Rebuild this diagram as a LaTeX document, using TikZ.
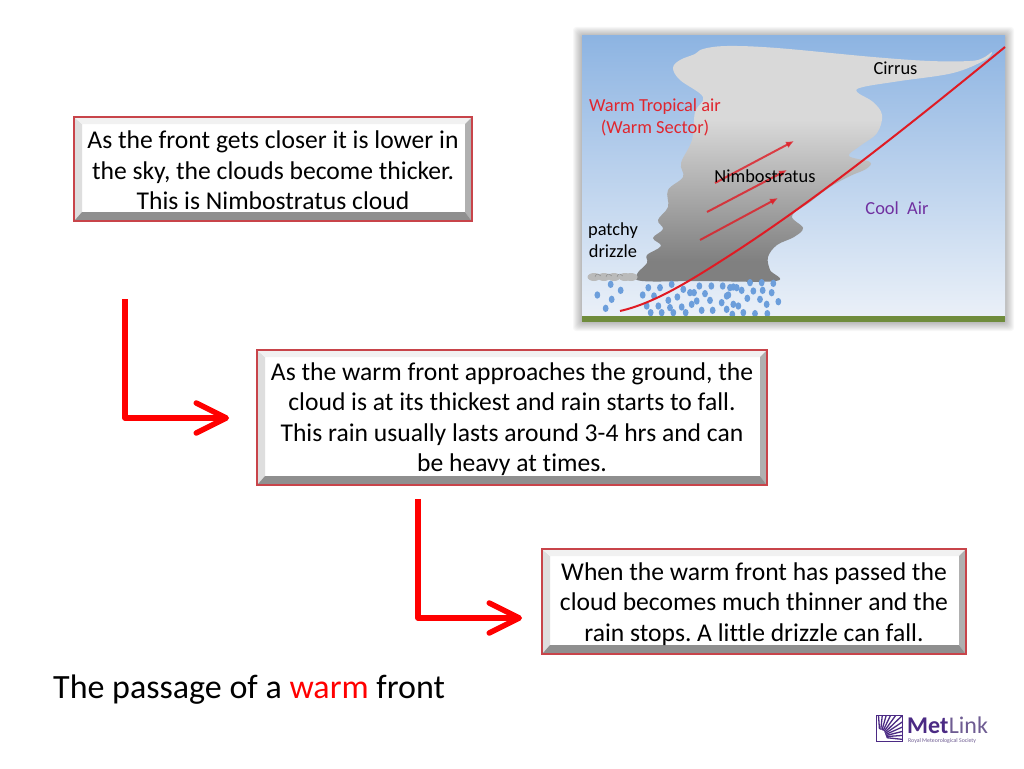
\documentclass[tikz,border=0pt]{standalone}
\usepackage{fontspec}
\setmainfont{Carlito}[Ligatures=NoCommon]
\usetikzlibrary{arrows.meta}
\definecolor{boxred}{HTML}{C8444A}
\definecolor{bevL}{HTML}{DEDEDE}
\definecolor{bevT}{HTML}{F1F1F1}
\definecolor{bevR}{HTML}{B0B0B0}
\definecolor{bevB}{HTML}{8F8F8F}
\definecolor{skyA}{HTML}{8DB4E2}
\definecolor{skyB}{HTML}{C6D8EF}
\definecolor{skyC}{HTML}{EAF0F8}
\definecolor{warmred}{HTML}{E0262E}
\definecolor{frontred}{HTML}{E01B24}
\definecolor{coolpurple}{HTML}{7030A0}
\definecolor{drop}{HTML}{6C9EDB}
\definecolor{ground}{HTML}{6F8C3C}
\definecolor{metpurple}{HTML}{4B2A84}
\definecolor{metgrey}{HTML}{6E5C92}
\tikzset{
  infobox/.style={inner sep=0pt,align=center,font=\fontsize{25.6}{30.5}\selectfont},
  bigarrow/.style={draw=red,line width=5.5pt,line join=round,-{Straight Barb[length=30pt,width=30pt,line width=5.5pt,round]}},
  flow/.style={draw=frontred,line width=2pt,opacity=.8,-{Latex[length=8pt,width=7pt]}},
  lab/.style={inner sep=0pt,font=\fontsize{18.4}{22}\selectfont,align=center}
}
\newcommand{\bevelbox}[7]{%
  \fill[white] (#2,#3) rectangle (#4,#5);
  \fill[bevL] (#2+1,#3+1) -- (#2+8,#3+7) -- (#2+8,#5-9) -- (#2+1,#5-1) -- cycle;
  \fill[bevT] (#2+1,#3+1) -- (#4-1,#3+1) -- (#4-7,#3+7) -- (#2+8,#3+7) -- cycle;
  \fill[bevR] (#4-1,#3+1) -- (#4-7,#3+7) -- (#4-7,#5-9) -- (#4-1,#5-1) -- cycle;
  \fill[bevB] (#2+1,#5-1) -- (#2+8,#5-9) -- (#4-7,#5-9) -- (#4-1,#5-1) -- cycle;
  \draw[boxred,line width=1.4pt] (#2,#3) rectangle (#4,#5);
  \node[infobox] (#1) at ({(#2+#4)/2},{(#3+#5)/2+#7}) {#6};
}
\begin{document}
\frenchspacing
\begin{tikzpicture}[x=1pt,y=-1pt]
\useasboundingbox (0,0) rectangle (1024,768);
\fill[white] (0,0) rectangle (1024,768);

% picture shadow
\foreach \d in {9,8,...,1}
  \fill[black,opacity=.03,rounded corners=3pt] ({582-\d},{36-\d}) rectangle ({1005+\d},{322+\d});
% sky
\shade[top color=skyA,middle color=skyB,bottom color=skyC] (582,36) rectangle (1005,316);
% cloud
\def\cloudpath{plot[smooth cycle,tension=.6] coordinates {
 (673,68)(680,60)(695,54)(703,49)(727,46)(777,48)(873,57)(930,61)(970,61)(983,58)(992,52)(985,60)(953,73)(900,81)(863,87)(857,92)(873,102)(882,115)(877,133)(860,146)(849,156)(870,162)(866,169)(850,176)(830,187)(810,202)(792,216)(803,228)(794,237)(777,245)(768,257)(770,270)(776,281)
 (700,281)(642,281)(637,274)(647,263)(647,255)(661,246)(653,238)(663,229)(658,220)(668,207)(668,190)(683,177)(681,163)(692,140)(695,112)(703,97)(680,80)}}
\begin{scope}
  \clip \cloudpath;
  \fill[black!15] (630,40) rectangle (1000,121);
  \shade[top color=black!15,bottom color=black!50] (630,120) rectangle (1000,262);
  \fill[black!50] (630,261) rectangle (1000,290);
\end{scope}
% small drizzle cloud
\foreach \x in {594,604,614,625,631}
  \fill[black!27] (\x,277) ellipse (6.5pt and 4pt);
\foreach \x in {598,609,620}
  \draw[black!45,line width=.5pt] (\x-3,277) arc (180:20:3pt and 3pt);
% rain
\foreach \a/\b in {122/790,152/808,82/822,125/835,107/862,235/800,270/800,305/790,218/822,252/825,340/805,388/795,424/795,458/795,490/798,540/785,575/785,610/787,360/815,372/815,405/818,470/825,515/808,550/810,578/808,605/815,322/828,295/838,230/855,265/855,335/858,380/840,420/838,455/845,490/850,532/832,570/835,625/842,590/850,242/875,275/875,310/875,347/875,395/868,428/868,470/865,487/880,520/875,555/878,592/878,505/855,475/822,500/800,480/800,365/850,300/860}
  \fill[drop] ({570+\a/3},{20+\b/3+1}) ellipse (2.9pt and 3.7pt);
% ground
\fill[ground] (582,316) rectangle (1005,322);
% front and flow arrows
\coordinate (fa) at (620,311); \coordinate (fb) at (1005,47);
\draw[frontred,line width=2pt] (fa) .. controls (655,303) and (690,281) .. (735,252) .. controls (790,216) and (860,166) .. (fb);
\coordinate (a1) at (700,240); \coordinate (a2) at (778,198);
\coordinate (b1) at (707,212); \coordinate (b2) at (787,170);
\coordinate (c1) at (715,183); \coordinate (c2) at (794,141);
\draw[flow] (a1) -- (a2);
\draw[flow] (b1) -- (b2);
\draw[flow] (c1) -- (c2);
% labels
\node[lab] (cirrus) at (895.5,68) {Cirrus};
\node[lab,text=warmred] (warm) at (655,117) {Warm Tropical air\\(Warm Sector)};
\node[lab] (nimbo) at (765,176) {Nimbostratus};
\node[lab,text=coolpurple] (cool) at (897,208) {Cool\ \ Air};
\node[lab] (patchy) at (613,240) {patchy\\drizzle};
% boxes
\bevelbox{boxa}{74}{117}{472}{221}{As the front gets closer it is lower in\\the sky, the clouds become thicker.\\This is Nimbostratus cloud}{1.5}
\bevelbox{boxb}{257}{350}{767}{485}{As the warm front approaches the ground, the\\cloud is at its thickest and rain starts to fall.\\This rain usually lasts around 3-4 hrs and can\\be heavy at times.}{1.5}
\bevelbox{boxc}{542}{549}{966}{654}{When the warm front has passed the\\cloud becomes much thinner and the\\rain stops. A little drizzle can fall.}{2.5}
% big arrows
\coordinate (s1) at (125,299); \coordinate (k1) at (125,418); \coordinate (e1) at (229,418);
\coordinate (s2) at (418,499); \coordinate (k2) at (418,618); \coordinate (e2) at (522,618);
\draw[bigarrow] (s1) -- (k1) -- (e1);
\draw[bigarrow] (s2) -- (k2) -- (e2);
% title
\node[anchor=base west,inner sep=0pt,font=\fontsize{34}{38}\selectfont] (title) at (53,698) {The passage of a \textcolor{red}{warm} front};
% logo
\node[minimum width=26pt,minimum height=25pt,inner sep=0pt] (logobox) at (889.5,728.5) {};
\begin{scope}
  \clip (logobox.north west) rectangle (logobox.south east);
  \foreach \t in {-6,4,...,96}
    \draw[metpurple,line width=1.3pt] (880,737) -- ++({34*cos(\t)},{-34*sin(\t)});
  \fill[white] (876,742) -- (876,728) -- (884,731) -- (888,742) -- cycle;
\end{scope}
\draw[metpurple,line width=1pt] (logobox.north west) rectangle (logobox.south east);
\node[anchor=base west,inner sep=0pt,text=metpurple,font=\fontsize{24}{26}\selectfont\bfseries] (met) at (907,733) {Met};
\node[anchor=base west,inner sep=0pt,text=metgrey,font=\fontsize{24}{26}\selectfont] (link) at (met.base east) {Link};
\node[anchor=base west,inner sep=0pt,text=metgrey,font=\fontsize{5.8}{7}\selectfont] (rms) at (908,742) {Royal Meteorological Society};
\end{tikzpicture}
\end{document}
